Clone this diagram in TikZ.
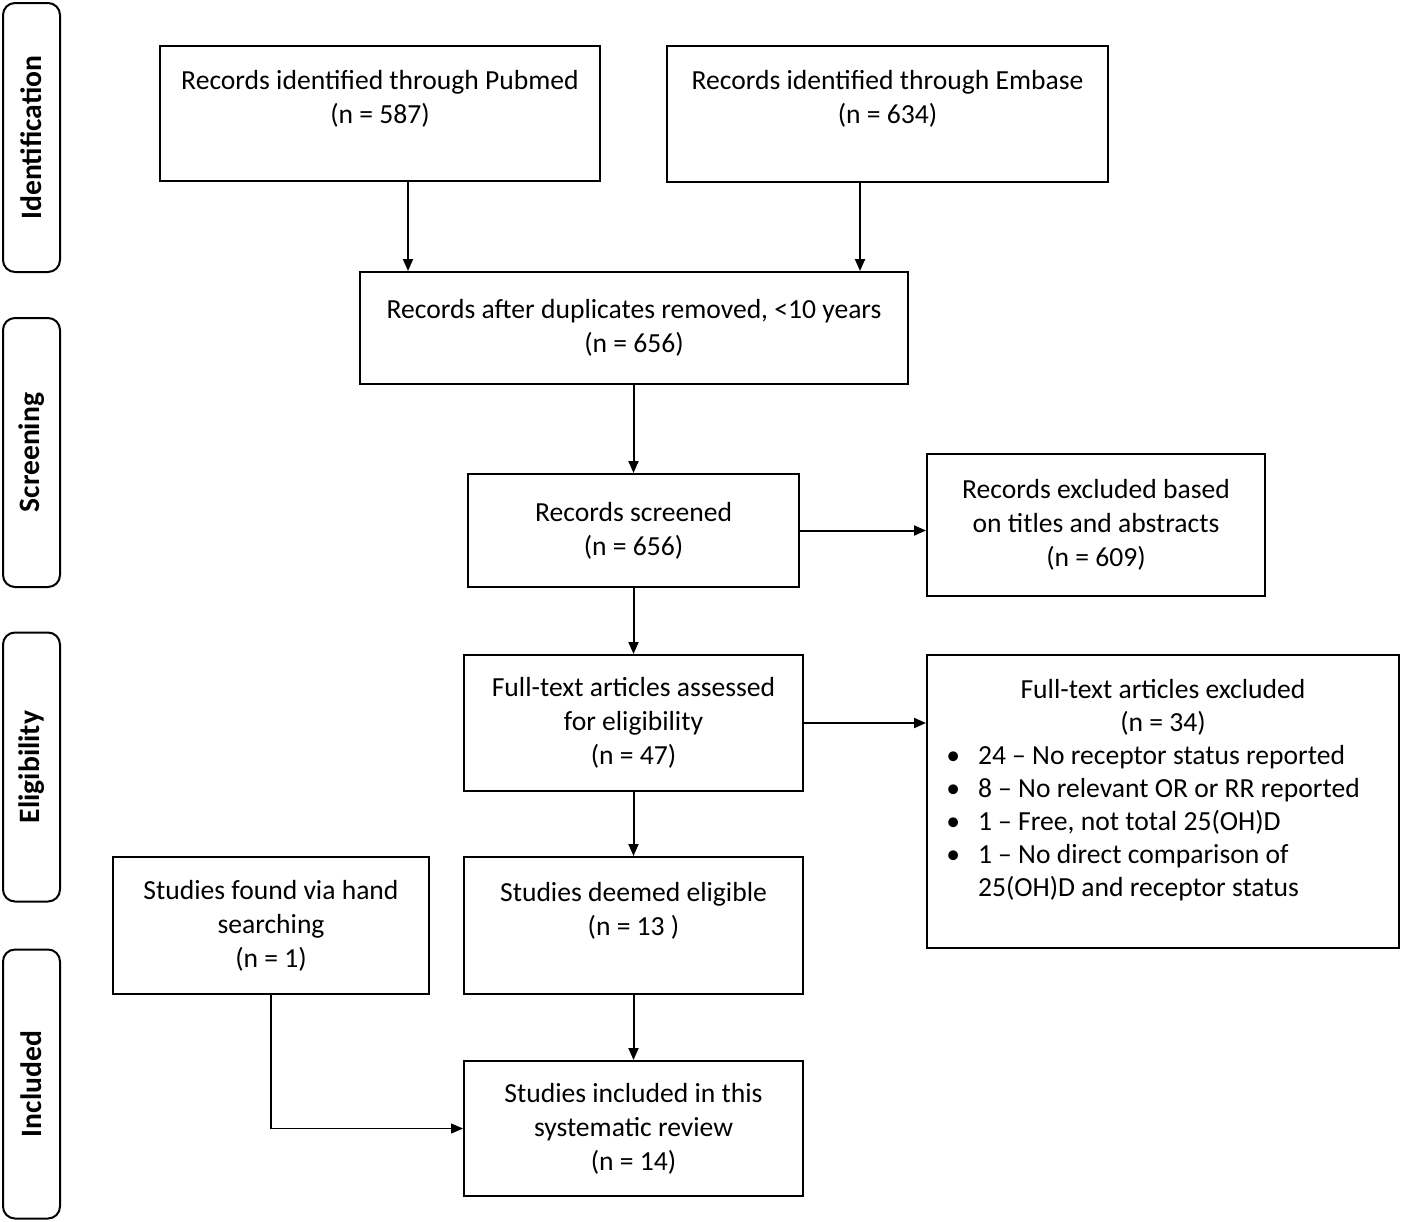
\documentclass[tikz,border=0pt]{standalone}
\usepackage{fontspec}
\setmainfont{Carlito}
\usepackage{tikz}
\usetikzlibrary{arrows.meta, positioning}

\tikzset{
  box/.style={draw, line width=1pt, align=center, inner sep=0pt},
  upper/.style={text depth=17pt},
  phase/.style={draw, line width=1pt, rounded corners=6pt, rotate=90, inner sep=0pt,
    font=\fontsize{14.8}{17}\selectfont\bfseries, minimum width=134.5pt, minimum height=28.5pt},
  arrow/.style={line width=1pt, -{Triangle[length=6pt, width=5pt]}},
  thinarrow/.style={line width=0.6pt, -{Triangle[length=6pt, width=5pt]}}
}

\begin{document}
\begin{tikzpicture}[x=0.5pt, y=-0.5pt, font=\fontsize{13.8}{17}\selectfont]
  \useasboundingbox (0,0) rectangle (1401,1221);
  % phase labels on the left
  \foreach \y/\name/\txt in {137.5/ident/Identification, 452.5/screen/Screening,
                              767/elig/Eligibility, 1084/incl/Included}
    \node[phase] (\name) at (31.5,\y) {\txt};

  % boxes
  \node[box, upper, minimum width=220pt, minimum height=67.5pt] (pubmed) at (380,113.5)
    {Records identified through Pubmed\\(n = 587)};
  \node[box, upper, minimum width=220.5pt, minimum height=68pt] (embase) at (887.5,114)
    {Records identified through Embase\\(n = 634)};
  \node[box, minimum width=274pt, minimum height=56pt] (dup) at (634,328)
    {Records after duplicates removed, <10 years\\(n = 656)};
  \node[box, minimum width=165.5pt, minimum height=56.5pt] (screened) at (633.5,530.5)
    {Records screened\\(n = 656)};
  \node[box, minimum width=169pt, minimum height=71pt] (excl1) at (1096,525)
    {Records excluded based\\on titles and abstracts\\(n = 609)};
  \node[box, minimum width=169.5pt, minimum height=68pt] (fulltext) at (633.5,723)
    {Full-text articles assessed\\for eligibility\\(n = 47)};
  \node[box, minimum width=236pt, minimum height=146.5pt, text depth=80pt,
        font=\fontsize{13.8}{16.5}\selectfont] (excl2) at (1163,801.5)
    {Full-text articles excluded\\(n = 34)\\
     \begin{tabular}[t]{@{}l@{\hspace{9pt}}l@{}}
       \textbullet & 24 – No receptor status reported\\
       \textbullet & 8 – No relevant OR or RR reported\\
       \textbullet & 1 – Free, not total 25(OH)D\\
       \textbullet & 1 – No direct comparison of\\
                   & 25(OH)D and receptor status
     \end{tabular}\hspace*{10pt}};
  \node[box, upper, minimum width=169.5pt, minimum height=68.5pt] (eligible) at (633.5,925.5)
    {Studies deemed eligible\\(n = 13 )};
  \node[box, minimum width=158pt, minimum height=68.5pt] (hand) at (271,925.5)
    {Studies found via hand\\searching\\(n = 1)};
  \node[box, minimum width=169.5pt, minimum height=67.5pt] (included) at (633.5,1128.5)
    {Studies included in this\\systematic review\\(n = 14)};

  % connectors
  \draw[arrow] ([xshift=14pt]pubmed.south) -- ([xshift=14pt]pubmed.south |- dup.north);
  \draw[arrow] ([xshift=-13.75pt]embase.south) -- ([xshift=-13.75pt]embase.south |- dup.north);
  \draw[arrow] (dup.south -| screened.north) -- (screened.north);
  \draw[arrow] (screened.east) -- (screened.east -| excl1.west);
  \draw[arrow] (screened.south) -- (fulltext.north);
  \draw[arrow] (fulltext.east) -- (fulltext.east -| excl2.west);
  \draw[arrow] (fulltext.south) -- (eligible.north);
  \draw[arrow] (eligible.south) -- (included.north);
  \draw[thinarrow] (hand.south) |- (included.west);
\end{tikzpicture}
\end{document}
